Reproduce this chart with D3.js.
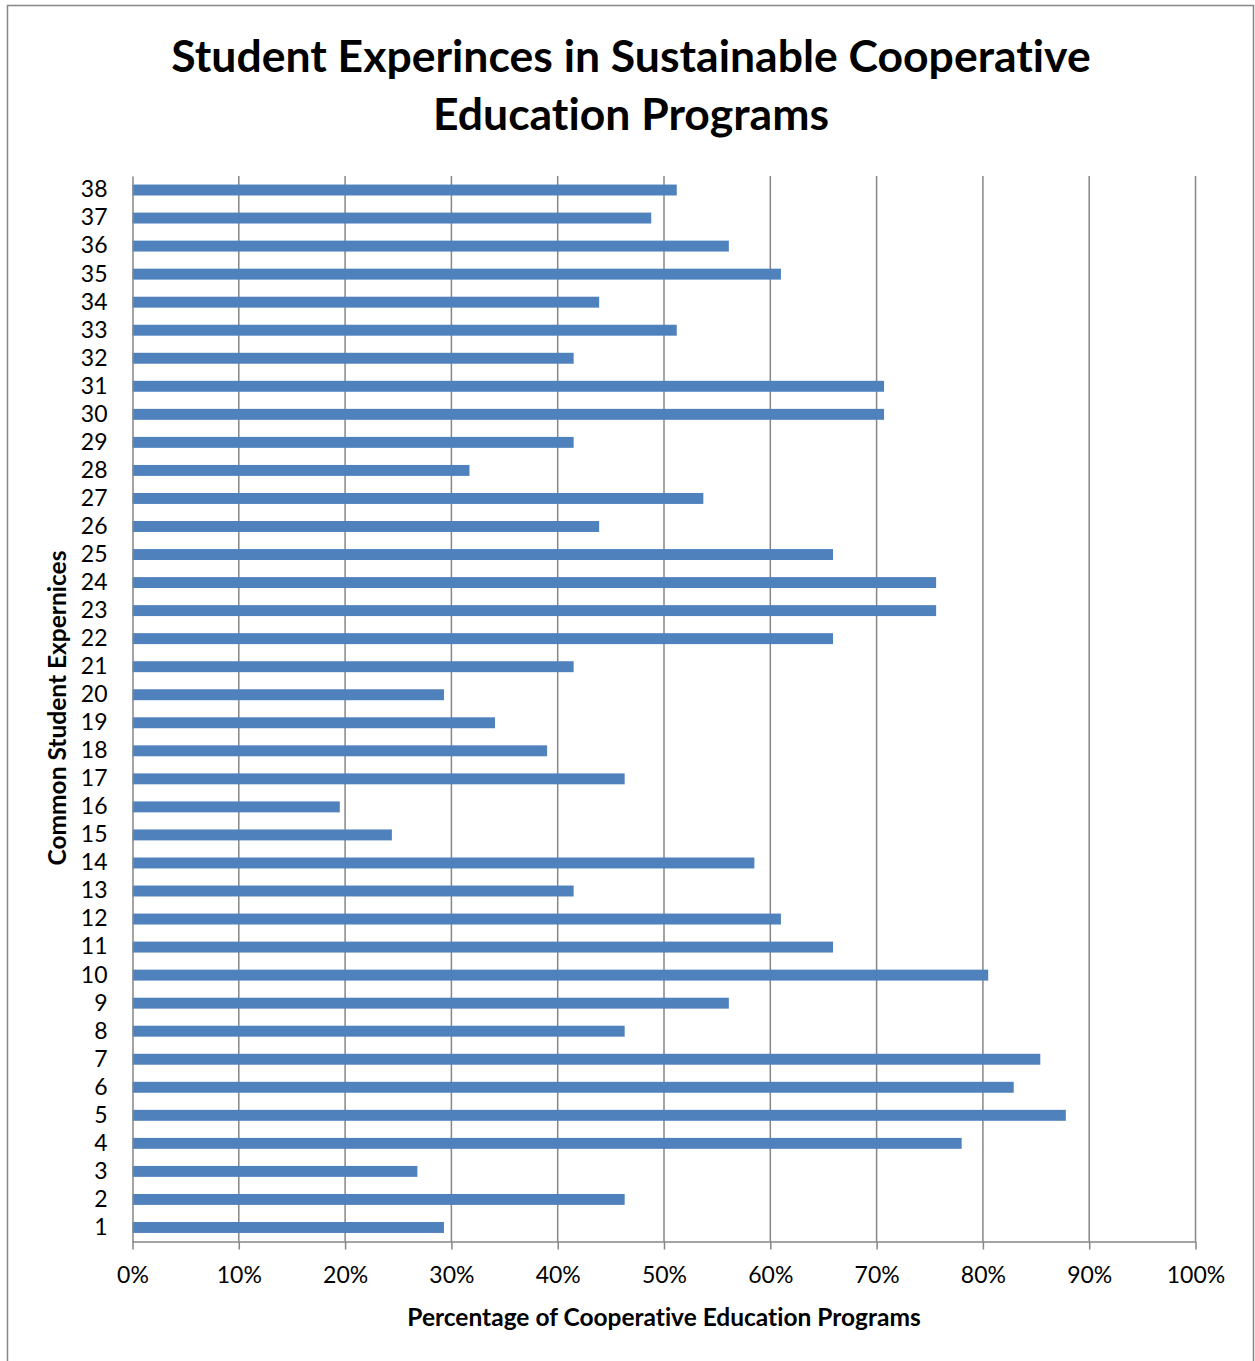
<!DOCTYPE html>
<html><head><meta charset="utf-8">
<script src="https://cdn.jsdelivr.net/npm/d3@7"></script>
<style>body{margin:0;background:#fff;} text{font-family:Lato,"Open Sans",sans-serif;font-variant-ligatures:none;font-feature-settings:"liga" 0,"dlig" 0;}</style>
</head><body>
<svg id="chart" width="1255" height="1361"></svg>
<script>
const categories = ["1","2","3","4","5","6","7","8","9","10","11","12","13","14","15","16","17","18","19","20","21","22","23","24","25","26","27","28","29","30","31","32","33","34","35","36","37","38"];
const values = [29.3,46.3,26.8,78.0,87.8,82.9,85.4,46.3,56.1,80.5,65.9,61.0,41.5,58.5,24.4,19.5,46.3,39.0,34.1,29.3,41.5,65.9,75.6,75.6,65.9,43.9,53.7,31.7,41.5,70.7,70.7,41.5,51.2,43.9,61.0,56.1,48.8,51.2];
const xTicks = [0,10,20,30,40,50,60,70,80,90,100];
const titleLines = ["Student Experinces in Sustainable Cooperative","Education Programs"];
const xTitle = "Percentage of Cooperative Education Programs";
const yTitle = "Common Student Expernices";

const svg = d3.select("#chart");
svg.append("rect").attr("x",7.5).attr("y",5.5).attr("width",1246).attr("height",1370)
  .attr("fill","#fff").attr("stroke","#868686").attr("stroke-width",1.5);

const m = {left:132.5, right:1195.5, top:176, bottom:1241.5};
const x = d3.scaleLinear().domain([0,100]).range([m.left,m.right]);
const y = d3.scaleBand().domain(categories.slice().reverse()).range([m.top,m.bottom]).paddingInner(0.61).paddingOuter(0.305);

// gridlines
svg.append("g").selectAll("line").data(xTicks.slice(1)).join("line")
  .attr("x1",d=>x(d)).attr("x2",d=>x(d)).attr("y1",m.top).attr("y2",m.bottom)
  .attr("stroke","#868686").attr("stroke-width",1.5);

// bars
svg.append("g").selectAll("rect").data(categories).join("rect")
  .attr("x",x(0)).attr("y",(d)=>y(d)).attr("height",y.bandwidth())
  .attr("width",(d,i)=>x(values[i])-x(0)).attr("fill","#4F81BD");

// x axis
const xa = svg.append("g").attr("transform",`translate(0,${m.bottom})`)
  .call(d3.axisBottom(x).tickValues(xTicks).tickFormat(d=>d+"%").tickSizeInner(8).tickSizeOuter(0).tickPadding(17));
xa.select(".domain").attr("stroke","#868686").attr("stroke-width",1.5);
xa.selectAll(".tick line").attr("stroke","#868686").attr("stroke-width",1.5);
xa.selectAll("text").attr("font-size",23).attr("fill","#000").style("font-family","Lato,'Open Sans',sans-serif");

// y axis
const ya = svg.append("g").attr("transform",`translate(${m.left},0)`)
  .call(d3.axisLeft(y).tickSize(0).tickPadding(25));
ya.select(".domain").attr("stroke","#868686").attr("stroke-width",1.5);
ya.selectAll("text").attr("font-size",23).attr("fill","#000").style("font-family","Lato,'Open Sans',sans-serif");

// titles
svg.append("text").attr("x",631).attr("text-anchor","middle").attr("font-weight","bold")
  .attr("font-size",44.5).attr("fill","#000")
  .selectAll("tspan").data(titleLines).join("tspan")
  .attr("x",631).attr("y",(d,i)=>72+i*58).text(d=>d);

svg.append("text").attr("x",664).attr("y",1326).attr("text-anchor","middle")
  .attr("font-weight","bold").attr("font-size",24.5).text(xTitle);

svg.append("text").attr("transform","translate(66,708) rotate(-90)").attr("text-anchor","middle")
  .attr("font-weight","bold").attr("font-size",24.5).text(yTitle);
</script>
</body></html>
